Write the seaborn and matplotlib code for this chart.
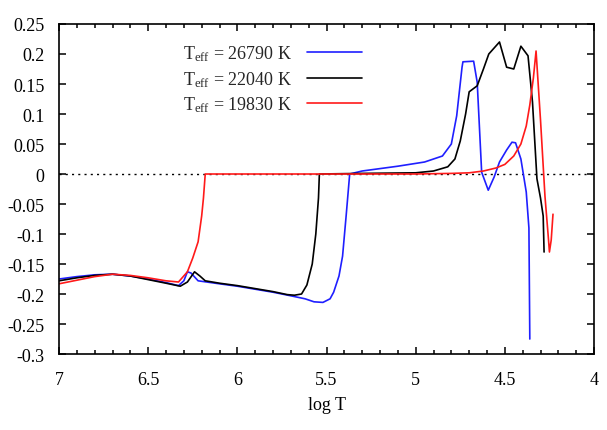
import numpy as np
import pandas as pd
import seaborn as sns
import matplotlib
matplotlib.use("Agg")
import matplotlib.pyplot as plt
from matplotlib.ticker import MultipleLocator

# curves
logt_26790 = [7.0, 6.9, 6.8, 6.7, 6.6, 6.5, 6.4, 6.33, 6.30, 6.28, 6.26, 6.22, 6.1, 6.0, 5.9, 5.8,
              5.7, 5.62, 5.57, 5.52, 5.48, 5.46, 5.43, 5.41, 5.39, 5.37, 5.3, 5.1, 4.95, 4.85, 4.8,
              4.77, 4.74, 4.735, 4.675, 4.655, 4.63, 4.593, 4.56, 4.53, 4.49, 4.46, 4.44, 4.41,
              4.38, 4.365, 4.36]
dv_26790 = [-0.175, -0.171, -0.168, -0.167, -0.170, -0.175, -0.181, -0.186, -0.178, -0.163, -0.165,
            -0.178, -0.183, -0.187, -0.192, -0.197, -0.203, -0.208, -0.213, -0.214, -0.208, -0.197,
            -0.170, -0.137, -0.070, 0.0, 0.005, 0.013, 0.020, 0.030, 0.050, 0.097, 0.178, 0.187,
            0.188, 0.153, 0.003, -0.027, -0.005, 0.020, 0.040, 0.053, 0.052, 0.025, -0.030,
            -0.090, -0.275]

logt_22040 = [7.0, 6.9, 6.8, 6.7, 6.6, 6.5, 6.4, 6.32, 6.28, 6.24, 6.21, 6.18, 6.1, 6.0, 5.9, 5.8,
              5.72, 5.68, 5.64, 5.61, 5.58, 5.56, 5.545, 5.54, 5.3, 5.0, 4.9, 4.82, 4.78, 4.75,
              4.72, 4.70, 4.655, 4.62, 4.59, 4.53, 4.49, 4.45, 4.41, 4.37, 4.345, 4.32, 4.30,
              4.285, 4.28]
dv_22040 = [-0.178, -0.173, -0.169, -0.167, -0.170, -0.176, -0.182, -0.187, -0.180, -0.163, -0.170,
            -0.178, -0.182, -0.186, -0.191, -0.196, -0.201, -0.202, -0.200, -0.185, -0.150, -0.100,
            -0.040, 0.0, 0.001, 0.002, 0.005, 0.012, 0.025, 0.055, 0.100, 0.137, 0.147, 0.175,
            0.200, 0.220, 0.178, 0.175, 0.213, 0.197, 0.120, -0.008, -0.040, -0.070, -0.130]

logt_19830 = [7.0, 6.9, 6.8, 6.7, 6.6, 6.5, 6.4, 6.33, 6.28, 6.25, 6.22, 6.20, 6.19, 6.18, 6.0,
              5.5, 5.0, 4.8, 4.7, 4.62, 4.55, 4.5, 4.45, 4.41, 4.38, 4.36, 4.34, 4.325, 4.30,
              4.275, 4.255, 4.25, 4.24, 4.23]
dv_19830 = [-0.183, -0.177, -0.171, -0.167, -0.169, -0.173, -0.178, -0.180, -0.163, -0.140, -0.113,
            -0.070, -0.040, 0.0, 0.0, 0.0, 0.0, 0.001, 0.002, 0.005, 0.010, 0.016, 0.030, 0.050,
            0.080, 0.115, 0.160, 0.205, 0.090, -0.037, -0.110, -0.130, -0.110, -0.067]

labels = [r"T$_{\mathrm{eff}}$ = 26790 K", r"T$_{\mathrm{eff}}$ = 22040 K", r"T$_{\mathrm{eff}}$ = 19830 K"]
colors = ["#1f1fff", "#000000", "#ff1a1a"]

df = pd.concat([
    pd.DataFrame({"logT": logt_26790, "val": dv_26790, "model": labels[0]}),
    pd.DataFrame({"logT": logt_22040, "val": dv_22040, "model": labels[1]}),
    pd.DataFrame({"logT": logt_19830, "val": dv_19830, "model": labels[2]}),
])

sns.set_style("ticks")
plt.rcParams["font.family"] = ["Liberation Serif", "DejaVu Serif"]
plt.rcParams["mathtext.fontset"] = "custom"
plt.rcParams["mathtext.rm"] = "Liberation Serif"
plt.rcParams["mathtext.it"] = "Liberation Serif:italic"
plt.rcParams["xtick.direction"] = "in"
plt.rcParams["ytick.direction"] = "in"

fig = plt.figure(figsize=(6.07, 4.31), dpi=100)
ax = fig.add_axes([0.0972, 0.1763, 0.8814, 0.7657])

ax.axhline(0, color="black", lw=1.0, ls=(0, (1.5, 3)))
sns.lineplot(data=df, x="logT", y="val", hue="model", palette=colors, sort=False,
             estimator=None, lw=1.2, ax=ax)

ax.set_xlim(7, 4)
ax.set_ylim(-0.3, 0.25)
ax.set_xticks(np.arange(4, 7.01, 0.5))
ax.set_xticklabels(["4", "4.5", "5", "5.5", "6", "6.5", "7"])
ax.xaxis.set_minor_locator(MultipleLocator(0.1))
ax.set_yticks(np.round(np.arange(-0.3, 0.251, 0.05), 2))
ax.set_yticklabels(["-0.3", "-0.25", "-0.2", "-0.15", "-0.1", "-0.05", "0", "0.05", "0.1", "0.15",
                    "0.2", "0.25"])
ax.tick_params(axis="both", which="both", direction="in", bottom=True, left=True, top=True,
               right=True, labelsize=13, width=1.1, color="black", labelcolor="black")
ax.tick_params(axis="both", which="major", length=4.8)
ax.tick_params(axis="x", which="minor", length=2.8)
ax.tick_params(axis="x", which="major", pad=12)
ax.tick_params(axis="y", which="major", pad=10.5)
for s in ax.spines.values():
    s.set_linewidth(1.2)
    s.set_color("black")
ax.set_xlabel("log T", fontsize=13, labelpad=6, color="black")
ax.set_ylabel("")

ax.legend(loc="upper right", bbox_to_anchor=(0.567, 0.94), frameon=False, markerfirst=False,
          fontsize=13, handlelength=3.05, handletextpad=0.85, labelspacing=0.3,
          borderpad=0, borderaxespad=0)

fig.savefig("out.png", dpi=100)
